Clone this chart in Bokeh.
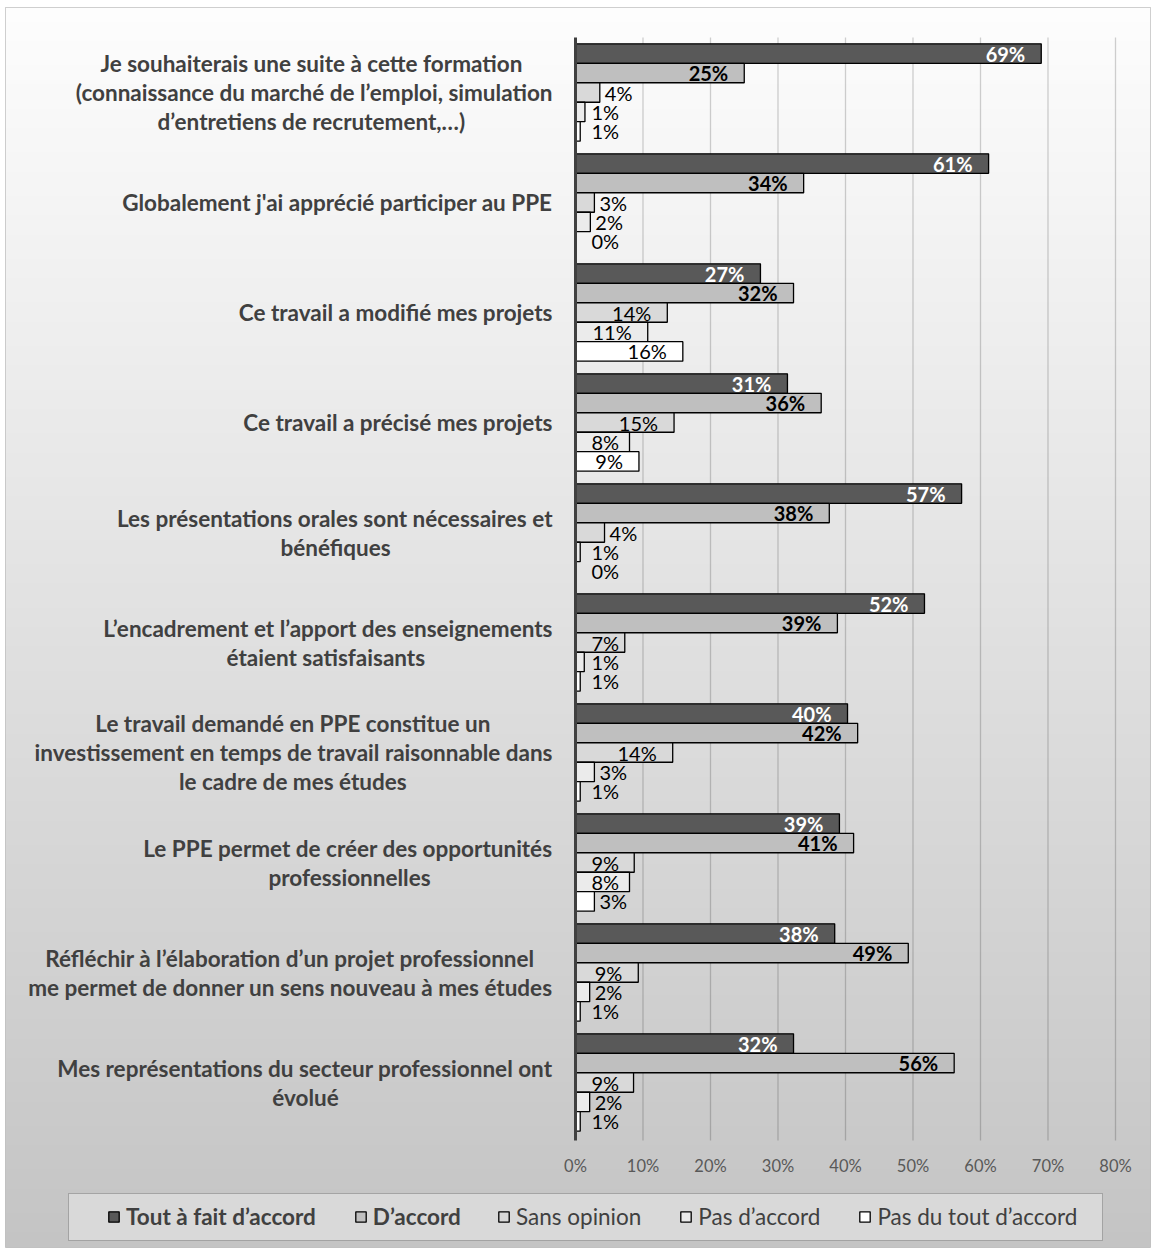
import numpy as np
from bokeh.plotting import figure
from bokeh.models import (ColumnDataSource, Range1d, FixedTicker,
                          BoxAnnotation, Legend, LegendItem)
from bokeh.transform import dodge
from bokeh.core.properties import value
from bokeh.embed import file_html
from bokeh.resources import INLINE

# ---------------- data ----------------
category_lines = [
    ["Je souhaiterais une suite à cette formation",
     "(connaissance du marché de l’emploi, simulation",
     "d’entretiens de recrutement,…)"],
    ["Globalement j'ai apprécié participer au PPE"],
    ["Ce travail a modifié mes projets"],
    ["Ce travail a précisé mes projets"],
    ["Les présentations orales sont nécessaires et", "bénéfiques"],
    ["L’encadrement et l’apport des enseignements", "étaient satisfaisants"],
    ["Le travail demandé en PPE constitue un",
     "investissement en temps de travail raisonnable dans",
     "le cadre de mes études"],
    ["Le PPE permet de créer des opportunités", "professionnelles"],
    ["Réfléchir à l’élaboration d’un projet professionnel",
     "me permet de donner un sens nouveau à mes études"],
    ["Mes représentations du secteur professionnel ont", "évolué"],
]
categories = [" ".join(l) for l in category_lines]

series_names = ["Tout à fait d’accord", "D’accord", "Sans opinion",
                "Pas d’accord", "Pas du tout d’accord"]

tout_a_fait = [69.0, 61.2, 27.4, 31.4, 57.2, 51.7, 40.3, 39.1, 38.4, 32.3]
d_accord = [25.0, 33.8, 32.3, 36.4, 37.6, 38.8, 41.8, 41.2, 49.3, 56.1]
sans_opinion = [3.6, 2.8, 13.6, 14.6, 4.3, 7.3, 14.4, 8.7, 9.3, 8.6]
pas_d_accord = [1.4, 2.2, 10.7, 8.0, 0.7, 1.3, 2.8, 8.0, 2.1, 2.1]
pas_du_tout = [0.7, 0.0, 15.9, 9.4, 0.0, 0.7, 0.7, 2.8, 0.7, 0.7]

tick_values = [0, 10, 20, 30, 40, 50, 60, 70, 80]
tick_labels = ["0%", "10%", "20%", "30%", "40%", "50%", "60%", "70%", "80%"]

# ---------------- layout (pixels) ----------------
W, H = 1152, 1249
FL, FR, FT, FB = 5, 1150, 7, 1247          # chart frame (outer border)
AX0, AX80 = 575, 1115                       # 0% and 80% positions
PT, PB = 37, 1137                           # plot area top / bottom
XMAX = 80
NCAT = len(categories)
PX = (AX80 - AX0) / XMAX                    # px per percent
PY = (PB - PT) / NCAT                       # px per category slot


def px2x(px):
    return (px - AX0) / PX


def py2y(py):
    return (PB - py) / PY


FONT = "Lato"

p = figure(width=W, height=H, output_backend="svg", toolbar_location=None,
           x_range=Range1d(px2x(FL), px2x(FR)),
           y_range=Range1d(py2y(FB), py2y(FT)),
           min_border_left=FL, min_border_right=W - FR,
           min_border_top=FT, min_border_bottom=H - FB)
p.border_fill_color = "white"
p.background_fill_color = "#e4e4e4"
p.outline_line_color = "#c0c0c0"
p.outline_line_width = 1

# background gradient: light at the top to gray at the bottom
N = 256
top_c = np.array([253, 253, 253], dtype=float)
bot_c = np.array([196, 196, 196], dtype=float)
img = np.empty((N, 1), dtype=np.uint32)
view = img.view(dtype=np.uint8).reshape((N, 1, 4))
for k in range(N):
    t = k / (N - 1)               # row 0 is the bottom row
    c = bot_c + (top_c - bot_c) * t
    view[k, 0, 0:3] = np.round(c).astype(np.uint8)
    view[k, 0, 3] = 255
p.image_rgba(image=[img], x=px2x(FL), y=py2y(FB),
             dw=px2x(FR) - px2x(FL), dh=py2y(FT) - py2y(FB), level="image")

# x axis drawn at y = 0 (bottom of the plot area)
p.xaxis.fixed_location = 0
p.xaxis.bounds = (0, XMAX)
p.xaxis.ticker = FixedTicker(ticks=tick_values)
p.xaxis.major_label_overrides = dict(zip(tick_values, tick_labels))
p.xaxis.axis_line_color = None
p.xaxis.major_tick_line_color = None
p.xaxis.minor_tick_line_color = None
p.xaxis.major_tick_out = 0
p.xaxis.major_tick_in = 0
p.xaxis.major_label_standoff = 18
p.xaxis.major_label_text_font = FONT
p.xaxis.major_label_text_font_size = "16.5px"
p.xaxis.major_label_text_color = "#595959"

# y axis: the dark vertical line at 0%
p.yaxis.fixed_location = 0
p.yaxis.bounds = (py2y(PB + 3), py2y(PT))
p.yaxis.ticker = FixedTicker(ticks=[])
p.yaxis.major_tick_line_color = None
p.yaxis.minor_tick_line_color = None
p.yaxis.axis_line_width = 3
p.yaxis.axis_line_color = "#404040"

p.xgrid.visible = False
p.ygrid.visible = False

# vertical gridlines over the plot area only
p.segment(x0=tick_values[1:], x1=tick_values[1:],
          y0=[py2y(PB + 3)] * (len(tick_values) - 1),
          y1=[py2y(PT)] * (len(tick_values) - 1),
          line_color="black", line_alpha=0.18, line_width=1.3)

# bars
yc = [NCAT - 1 - i + 0.5 for i in range(NCAT)]
series_values = [tout_a_fait, d_accord, sans_opinion, pas_d_accord, pas_du_tout]
fills = ["#595959", "#bfbfbf", "#d9d9d9", "#ebebeb", "#ffffff"]
label_colors = ["white", "black", "black", "black", "black"]
label_styles = ["bold", "bold", "normal", "normal", "normal"]
BAR_H = 0.177
offsets = [2 * BAR_H, BAR_H, 0.0, -BAR_H, -2 * BAR_H]

bar_renderers = []
for vals, fill, lc, ls, off in zip(series_values, fills, label_colors,
                                   label_styles, offsets):
    labs, lx, lox, lal = [], [], [], []
    for v in vals:
        txt = "%d%%" % round(v)
        w = 27 if len(txt) == 2 else 38
        vpx = v * PX
        if vpx - 16 - w >= 16:
            lx.append(v); lox.append(-16); lal.append("right")
        elif vpx >= 16 + w + 2:
            lx.append(0); lox.append(16); lal.append("left")
        else:
            lx.append(0); lox.append(max(16, vpx + 5)); lal.append("left")
        labs.append(txt)
    src = ColumnDataSource(dict(cat=categories, yc=yc, v=vals, lab=labs,
                                lx=lx, lox=lox, lal=lal))
    r = p.hbar(y=dodge("yc", off), left=0, right="v",
               height=BAR_H, fill_color=fill, line_color="black",
               line_width=1.3, source=src)
    bar_renderers.append(r)
    p.text(x="lx", y=dodge("yc", off), text="lab",
           x_offset="lox", y_offset=0, text_align="lal",
           text_baseline="middle", text_font=value(FONT),
           text_font_size="20px", text_font_style=ls, text_color=lc,
           source=src)

# ---- category labels: centered lines, block right-aligned next to the axis
CAT_FS = 22.5
EM = {" ": .20, "i": .24, "l": .24, "j": .24, "f": .32, "t": .34, "r": .35,
      "'": .20, "’": .20, ",": .20, ".": .20, "(": .30, ")": .30, "…": .75,
      "a": .50, "à": .50, "c": .46, "e": .51, "é": .51, "s": .42, "z": .45,
      "g": .51, "v": .50, "x": .50, "y": .50, "k": .52,
      "m": .84, "w": .78, "J": .38, "G": .70, "C": .65, "L": .48, "P": .58,
      "E": .54, "R": .60, "M": .85}


def est_width(s):
    return 1.043 * CAT_FS * sum(EM.get(ch, .62 if ch.isupper() else .56)
                                for ch in s)


LINE_H = 29 / PY
RIGHT = -23
r_y, r_txt = [], []
c_y, c_txt, c_xo = [], [], []
for ci, lines in enumerate(category_lines):
    n = len(lines)
    widths = [est_width(l) for l in lines]
    longest = max(range(n), key=lambda i: widths[i])
    for i, line in enumerate(lines):
        y = yc[ci] + ((n - 1) / 2 - i) * LINE_H
        if i == longest:
            r_y.append(y); r_txt.append(line)
        else:
            c_y.append(y); c_txt.append(line)
            c_xo.append(RIGHT - widths[longest] / 2)

common = dict(text_font=value(FONT), text_font_size="%.1fpx" % CAT_FS,
              text_font_style="bold", text_color="#404040",
              text_baseline="middle")
p.text(x=0, y="y", text="t", x_offset=RIGHT, text_align="right",
       source=ColumnDataSource(dict(y=r_y, t=r_txt)), **common)
p.text(x=0, y="y", text="t", x_offset="xo", text_align="center",
       source=ColumnDataSource(dict(y=c_y, t=c_txt, xo=c_xo)), **common)

# legend box
p.add_layout(BoxAnnotation(left=px2x(68), right=px2x(1102),
                           top=py2y(1193), bottom=py2y(1240),
                           fill_color="#d9d9d9", fill_alpha=1.0,
                           line_color="#404040", line_width=1))

LEG_CY = 1217
LEG_H = 26
leg_common = dict(orientation="horizontal", glyph_width=13, glyph_height=13,
                  label_standoff=6, spacing=38, padding=0, margin=0,
                  background_fill_alpha=0, border_line_alpha=0,
                  label_text_font=FONT, label_text_font_size="22.5px",
                  label_text_color="#404040", label_height=LEG_H)
legA = Legend(items=[LegendItem(label=series_names[i], renderers=[bar_renderers[i]])
                     for i in range(2)],
              location=(107 - FL, FB - LEG_CY - LEG_H // 2),
              label_text_font_style="bold", **leg_common)
legB = Legend(items=[LegendItem(label=series_names[i], renderers=[bar_renderers[i]])
                     for i in range(2, 5)],
              location=(497 - FL, FB - LEG_CY - LEG_H // 2),
              label_text_font_style="normal", **leg_common)
p.add_layout(legA)
p.add_layout(legB)

open("out.html", "w").write(file_html(p, INLINE))
